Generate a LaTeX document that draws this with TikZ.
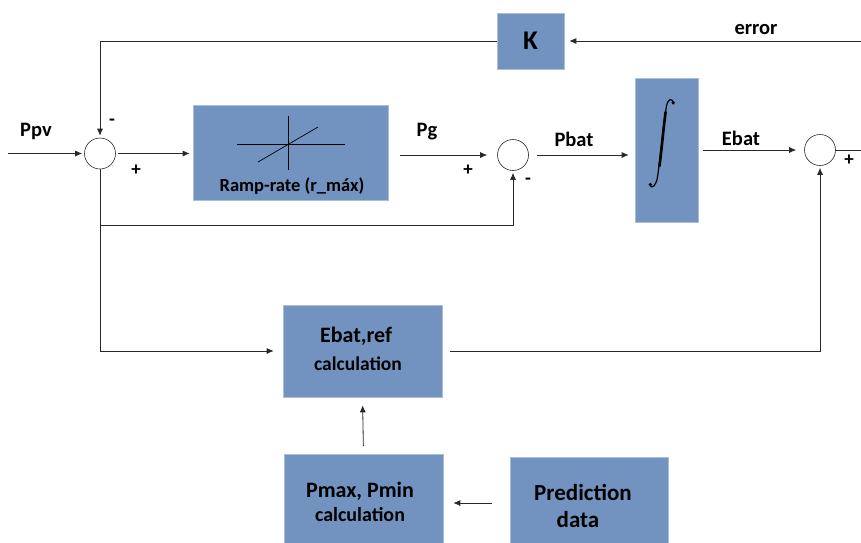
\documentclass[tikz,border=0pt]{standalone}
\usepackage{fontspec}
\setmainfont{Carlito}
\usetikzlibrary{arrows.meta}
\definecolor{blockblue}{RGB}{114,147,191}
\definecolor{wire}{RGB}{40,40,40}
\newcommand{\fsz}[1]{\fontsize{#1}{#1}\selectfont\bfseries}
\tikzset{
  block/.style={draw=blockblue!60!white, fill=blockblue, line width=0.6pt, inner sep=0pt},
  sumnode/.style={circle, draw=wire, line width=0.6pt, minimum size=31pt, inner sep=0pt},
  wireline/.style={draw=wire, line width=0.8pt},
  arr/.style={wireline, -{Latex[length=7pt,width=6pt]}},
  lbl/.style={font=\fsz{20.5}, inner sep=0pt},
  sgn/.style={font=\fsz{19}, inner sep=0pt},
}
\begin{document}
\begin{tikzpicture}[x=1pt, y=-1pt]
\useasboundingbox (0,0) rectangle (861,542);

% blocks
\node[block, minimum width=67pt, minimum height=56pt] (K) at (530.5,41) {};
\node[font=\fsz{27}] at (K) {K};
\node[block, minimum width=195pt, minimum height=95pt] (ramp) at (290.5,152.5) {};
\node[block, minimum width=63pt, minimum height=144pt] (integ) at (666.5,150) {};
\node[block, minimum width=159pt, minimum height=92pt] (eref) at (362.5,351) {};
\node[block, minimum width=159pt, minimum height=92pt, anchor=north] (pmm) at (363.5,454) {};
\node[block, minimum width=158pt, minimum height=90pt, anchor=north] (pred) at (589,457) {};

% ramp-rate characteristic
\draw[line width=0.9pt, black] (237,144) -- (345,144);
\draw[line width=0.9pt, black] (288,116) -- (288,170);
\draw[line width=0.7pt, black] (258,162) -- (318,127);
\node[font=\fsz{18.5}] at (292,186) {Ramp-rate (r\_máx)};

% integral sign
\draw[line width=1.2pt, black, line cap=round]
  (673.5,102.5) .. controls (672,98) and (668,98.5) .. (666.5,106)
  .. controls (664,120) and (660,160) .. (657.5,177)
  .. controls (656,186) and (652,189) .. (650,185.5);
\draw[line width=2.6pt, black, line cap=round]
  (665.6,112) .. controls (663.5,128) and (661.5,150) .. (659.5,166);
\fill[black] (673.2,102.8) circle (1.8pt);
\fill[black] (650.4,184.6) circle (1.8pt);

% block texts
\node[font=\fsz{22}] at (356,336) {Ebat,ref};
\node[font=\fsz{19.5}] at (358,364) {calculation};
\node[font=\fsz{22}] at (360,491) {Pmax, Pmin};
\node[font=\fsz{20}] at (360,515) {calculation};
\node[font=\fsz{23}] at (583,492) {Prediction};
\node[font=\fsz{23}] at (578,520) {data};

% summing junctions
\node[sumnode] (s1) at (100,153.5) {};
\node[sumnode] (s2) at (513,155) {};
\node[sumnode] (s3) at (820,150) {};

% free ends and taps
\coordinate (ppvin) at (8,153.5);
\coordinate (errin) at (861,41);
\coordinate (out) at (861,150);
\coordinate (tap) at (100,225);

% connectors
\draw[arr, shorten >=2pt] (ppvin) -- (s1.west);
\draw[arr, shorten <=2pt, shorten >=3pt] (s1.east) -- (ramp.west |- s1.east);
\draw[arr, shorten <=12pt, shorten >=10pt] (ramp.east |- s2.west) -- (s2.west);
\draw[arr, shorten <=8pt, shorten >=6pt] (s2.east) -- (integ.west |- s2.east);
\draw[arr, shorten <=5pt, shorten >=8pt] (integ.east |- s3.west) -- (s3.west);
\draw[wireline] (s3.east) -- (out);
\draw[arr, shorten >=5pt] (errin) -- (K.east);
\draw[arr, shorten >=2pt] (K.west) -| (s1.north);
\draw[arr, shorten >=9pt] (s1.south) |- (eref.west);
\draw[arr, shorten >=2pt] (tap) -| (s2.south);
\draw[arr, shorten <=8pt, shorten >=2pt] (eref.east) -| (s3.south);
\draw[arr, shorten <=8pt, shorten >=8pt] (pmm.north) -- (eref.south);
\draw[arr, shorten <=18pt, shorten >=10pt] (pred.west |- 0,503) -- (pmm.east |- 0,503);

% signal labels and signs
\node[lbl] at (36,131) {Ppv};
\node[lbl] at (427,132) {Pg};
\node[lbl] at (574,139) {Pbat};
\node[lbl] at (741,138) {Ebat};
\node[lbl] at (756,30) {error};
\node[sgn] at (112,122) {-};
\node[sgn] at (136,170) {+};
\node[sgn] at (468,170) {+};
\node[sgn] at (528,181) {-};
\node[sgn] at (849,160) {+};
\end{tikzpicture}
\end{document}
